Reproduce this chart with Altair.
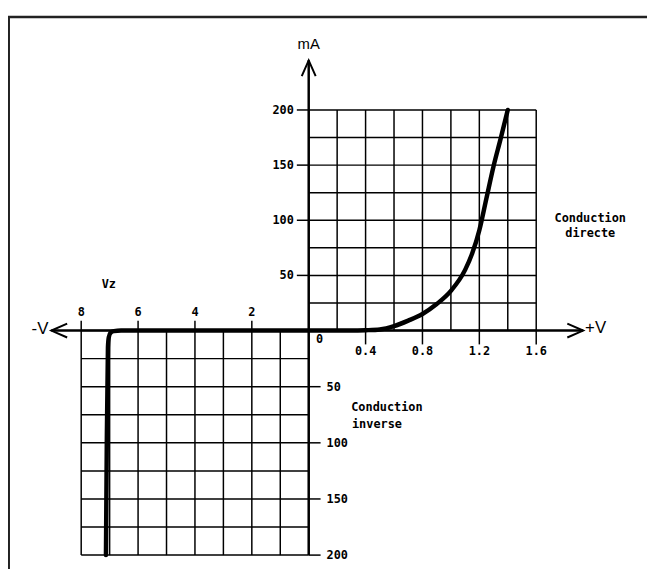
import altair as alt
import pandas as pd

# ---- characteristic curve (V, mA) ----
# reverse (Zener) branch, ordered by increasing voltage
rev_v = [-7.13, -7.10, -7.06, -7.03, -6.97, -6.85, -6.60, -4.0, -2.0]
rev_ma = [-200, -100, -15, -6, -2, -0.5, 0, 0, 0]
# forward branch
fwd_v = [0.0, 0.3, 0.4, 0.5, 0.6, 0.7, 0.8, 0.9, 1.0, 1.1, 1.15, 1.2, 1.25, 1.3, 1.35, 1.4]
fwd_ma = [0, 0, 0.3, 1, 4, 9, 15, 24, 36, 55, 70, 91, 120, 149, 174, 200]

# ---- grid ----
fwd_grid_v = [0, 0.2, 0.4, 0.6, 0.8, 1.0, 1.2, 1.4, 1.6]
fwd_grid_ma = [0, 25, 50, 75, 100, 125, 150, 175, 200]
rev_grid_v = [-8, -7, -6, -5, -4, -3, -2, -1, 0]
rev_grid_ma = [0, -25, -50, -75, -100, -125, -150, -175, -200]

# ---- ticks / labels ----
fwd_tick_v = [0.4, 0.8, 1.2, 1.6]
fwd_tick_v_lab = ["0.4", "0.8", "1.2", "1.6"]
rev_tick_v = [-8, -6, -4, -2]
rev_tick_v_lab = ["8", "6", "4", "2"]
fwd_tick_ma = [50, 100, 150, 200]
fwd_tick_ma_lab = ["50", "100", "150", "200"]
rev_tick_ma = [-50, -100, -150, -200]
rev_tick_ma_lab = ["50", "100", "150", "200"]

# axis extents (arrow tips)
axis_x_min, axis_x_max = -9.05, 1.93
axis_y_min, axis_y_max = -200, 245

# annotations
ann_text = ["Conduction", "directe", "Conduction", "inverse", "Vz"]
ann_v = [1.98, 1.98, 0.55, 0.48, -7.03]
ann_ma = [102, 88, -68, -83, 42]

XS = alt.Scale(domain=[-8, 0, 1.6], range=[74, 304, 534], nice=False, zero=False)
YS = alt.Scale(domain=[-200, 0, 200], range=[550, 323, 100], nice=False, zero=False)

MONO = "DejaVu Sans Mono"
SANS = "Liberation Sans"


def X(f, **k):
    return alt.X(f, type="quantitative", scale=XS, axis=None, **k)


def Y(f, **k):
    return alt.Y(f, type="quantitative", scale=YS, axis=None, **k)


curve = pd.DataFrame({"v": rev_v + fwd_v, "ma": rev_ma + fwd_ma})

vgrid = pd.DataFrame(
    [{"v": v, "y0": 0, "y1": 200} for v in fwd_grid_v]
    + [{"v": v, "y0": -200, "y1": 0} for v in rev_grid_v]
)
hgrid = pd.DataFrame(
    [{"ma": m, "x0": 0, "x1": 1.6} for m in fwd_grid_ma]
    + [{"ma": m, "x0": -8, "x1": 0} for m in rev_grid_ma]
)

grid_v = alt.Chart(vgrid).mark_rule(color="black", strokeWidth=1.5).encode(
    x=X("v"), y=Y("y0"), y2="y1"
)
grid_h = alt.Chart(hgrid).mark_rule(color="black", strokeWidth=1.5).encode(
    y=Y("ma"), x=X("x0"), x2="x1"
)

axes_df = pd.DataFrame({"a": [0]})
axis_h = alt.Chart(axes_df).mark_rule(color="black", strokeWidth=2.5).encode(
    x=alt.X(datum=axis_x_min, scale=XS, axis=None),
    x2=alt.X2(datum=axis_x_max),
    y=alt.Y(datum=0, scale=YS, axis=None),
)
axis_v = alt.Chart(axes_df).mark_rule(color="black", strokeWidth=2.5).encode(
    y=alt.Y(datum=axis_y_min, scale=YS, axis=None),
    y2=alt.Y2(datum=axis_y_max),
    x=alt.X(datum=0, scale=XS, axis=None),
)

arrows = pd.DataFrame(
    {"v": [axis_x_min, axis_x_max, 0], "ma": [0, 0, axis_y_max], "ang": [180, 0, 270]}
)
arrow_marks = alt.Chart(arrows).mark_point(
    shape="M -1 -0.44 L 0 0 L -1 0.44",
    size=1024,
    filled=False,
    stroke="black",
    strokeWidth=2,
    opacity=1,
).encode(x=X("v"), y=Y("ma"), angle=alt.Angle("ang:Q", scale=None))

# tick marks
t_fx = pd.DataFrame({"v": fwd_tick_v, "lab": fwd_tick_v_lab, "z": 0})
t_rx = pd.DataFrame({"v": rev_tick_v, "lab": rev_tick_v_lab, "z": 0})
t_fy = pd.DataFrame({"ma": fwd_tick_ma, "lab": fwd_tick_ma_lab, "z": 0})
t_ry = pd.DataFrame({"ma": rev_tick_ma, "lab": rev_tick_ma_lab, "z": 0})

tick_fx = alt.Chart(t_fx).mark_rule(color="black", strokeWidth=1.5, y2Offset=14).encode(
    x=X("v"), y=Y("z"), y2="z"
)
tick_rx = alt.Chart(t_rx).mark_rule(color="black", strokeWidth=1.5, y2Offset=-10).encode(
    x=X("v"), y=Y("z"), y2="z"
)
tick_fy = alt.Chart(t_fy).mark_rule(color="black", strokeWidth=1.5, x2Offset=-12).encode(
    y=Y("ma"), x=X("z"), x2="z"
)
tick_ry = alt.Chart(t_ry).mark_rule(color="black", strokeWidth=1.5, x2Offset=12).encode(
    y=Y("ma"), x=X("z"), x2="z"
)

txt = dict(font=MONO, fontSize=12, fontWeight="bold", color="black", baseline="middle")
lab_fx = alt.Chart(t_fx).mark_text(align="center", dy=21, **txt).encode(
    x=X("v"), y=Y("z"), text="lab"
)
lab_rx = alt.Chart(t_rx).mark_text(align="center", dy=-19, **txt).encode(
    x=X("v"), y=Y("z"), text="lab"
)
lab_fy = alt.Chart(t_fy).mark_text(align="right", dx=-15, **txt).encode(
    y=Y("ma"), x=X("z"), text="lab"
)
lab_ry = alt.Chart(t_ry).mark_text(align="left", dx=18, **txt).encode(
    y=Y("ma"), x=X("z"), text="lab"
)
origin = alt.Chart(pd.DataFrame({"v": [0], "ma": [0], "lab": ["0"]})).mark_text(
    align="center", dx=11, dy=9, **txt
).encode(x=X("v"), y=Y("ma"), text="lab")

ann = pd.DataFrame({"v": ann_v, "ma": ann_ma, "t": ann_text})
ann_marks = alt.Chart(ann).mark_text(align="center", **txt).encode(
    x=X("v"), y=Y("ma"), text="t"
)

big = dict(font=SANS, fontSize=17, color="black", baseline="middle")
lab_minus = alt.Chart(pd.DataFrame({"v": [axis_x_min], "ma": [0], "t": ["-V"]})).mark_text(
    align="right", dx=-3, dy=-2, **big
).encode(x=X("v"), y=Y("ma"), text="t")
lab_plus = alt.Chart(pd.DataFrame({"v": [axis_x_max], "ma": [0], "t": ["+V"]})).mark_text(
    align="left", dx=2, dy=-3, **big
).encode(x=X("v"), y=Y("ma"), text="t")
lab_ma = alt.Chart(pd.DataFrame({"v": [0], "ma": [axis_y_max], "t": ["mA"]})).mark_text(
    align="center", dy=-16, font=SANS, fontSize=15, color="black", baseline="middle"
).encode(x=X("v"), y=Y("ma"), text="t")

curve_mark = alt.Chart(curve).mark_line(
    color="black", strokeWidth=4.5, interpolate="monotone", strokeCap="round"
).encode(x=X("v"), y=Y("ma"))

# frame (top and left border of the figure)
frame_df = pd.DataFrame({"a": [0]})
frame_top = alt.Chart(frame_df).mark_rule(color="#222222", strokeWidth=2.5).encode(
    x=alt.value(0), x2=alt.value(646), y=alt.value(6)
)
frame_left = alt.Chart(frame_df).mark_rule(color="#222222", strokeWidth=2).encode(
    x=alt.value(1), y=alt.value(6), y2=alt.value(564)
)

chart = alt.layer(
    frame_top,
    frame_left,
    grid_v,
    grid_h,
    tick_fx,
    tick_rx,
    tick_fy,
    tick_ry,
    axis_h,
    axis_v,
    arrow_marks,
    lab_fx,
    lab_rx,
    lab_fy,
    lab_ry,
    origin,
    ann_marks,
    lab_minus,
    lab_plus,
    lab_ma,
    curve_mark,
).properties(
    width=646,
    height=564,
    padding=0,
    autosize=alt.AutoSizeParams(type="none"),
    background="white",
).configure_view(stroke=None)

chart.save("out.html", embed_options={"renderer": "svg", "actions": False})
